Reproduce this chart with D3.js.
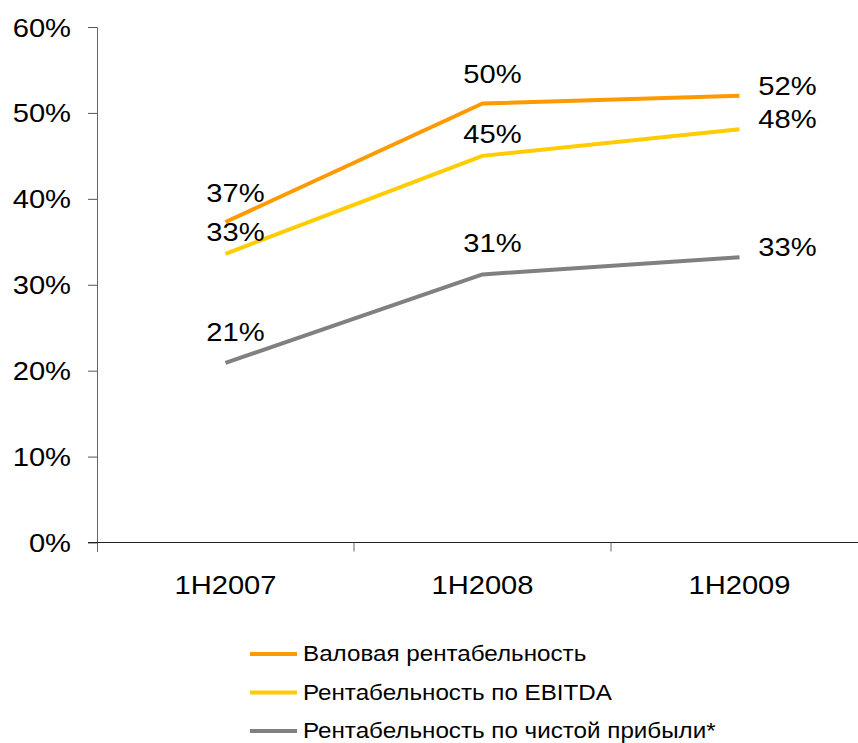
<!DOCTYPE html>
<meta charset="utf-8">
<style>
body { margin: 0; background: #fff; }
svg text { font-family: Arial, "Liberation Sans", sans-serif; fill: #000; }
</style>
<svg width="858" height="743" id="chart"></svg>
<script src="https://d3js.org/d3.v7.min.js"></script>
<script>

var categories = ["1H2007", "1H2008", "1H2009"];
var seriesNames = ["Валовая рентабельность", "Рентабельность по EBITDA", "Рентабельность по чистой прибыли*"];
var seriesColors = ["#ff9900", "#ffcc00", "#808080"];
var grossMargin = [37.3, 51.1, 52.0];
var ebitdaMargin = [33.6, 45.0, 48.1];
var netMargin = [20.9, 31.2, 33.2];
var grossLabels = ["37%", "50%", "52%"];
var ebitdaLabels = ["33%", "45%", "48%"];
var netLabels = ["21%", "31%", "33%"];
var yTicks = [0, 10, 20, 30, 40, 50, 60];

var series = [
  {name: seriesNames[0], color: seriesColors[0], values: grossMargin, labels: grossLabels},
  {name: seriesNames[1], color: seriesColors[1], values: ebitdaMargin, labels: ebitdaLabels},
  {name: seriesNames[2], color: seriesColors[2], values: netMargin, labels: netLabels}
];

var svg = d3.select("#chart");

var x = d3.scaleBand().domain(categories).range([97, 868]);
var y = d3.scaleLinear().domain([0, 60]).range([542.5, 27]);

// text is a bit wider than the font's natural shape in the original
function stretched(sel, px, py, str, size, anchor) {
  sel.append("text")
      .attr("transform", "translate(" + px + "," + py + ") scale(1.1,1)")
      .attr("text-anchor", anchor)
      .style("font-size", size + "px")
      .text(str);
}

// y axis
var yAxis = svg.append("g")
    .attr("transform", "translate(97,0)")
    .call(d3.axisLeft(y).tickValues(yTicks).tickSize(9).tickFormat(""));
yAxis.select(".domain").attr("stroke", "#666").attr("d", "M-9,27.5H0.5V552");
yAxis.selectAll(".tick line").attr("stroke", "#555");
yTicks.forEach(function(t) {
  stretched(svg, 71, y(t) + 9.5, t + "%", 26.5, "end");
});

// x axis
var xAxis = svg.append("g")
    .attr("transform", "translate(0,542.5)")
    .call(d3.axisBottom(x).tickSize(0).tickFormat(""));
xAxis.select(".domain").attr("stroke", "#222").attr("d", "M88,0H868");
xAxis.selectAll(".tick").remove();
var bounds = categories.map(function(c) { return x(c) + x.bandwidth(); });
xAxis.selectAll(".sep")
    .data(bounds)
  .enter().append("line")
    .attr("x1", function(d) { return d; })
    .attr("x2", function(d) { return d; })
    .attr("y1", 0)
    .attr("y2", 9)
    .attr("stroke", "#666");
categories.forEach(function(c) {
  stretched(svg, x(c) + x.bandwidth() / 2, 594, c, 26.5, "middle");
});

var cx = function(i) { return x(categories[i]) + x.bandwidth() / 2; };

var line = d3.line()
    .x(function(d, i) { return cx(i); })
    .y(function(d) { return y(d); });

svg.append("g").selectAll("path")
    .data(series)
  .enter().append("path")
    .attr("d", function(s) { return line(s.values); })
    .attr("fill", "none")
    .attr("stroke", function(s) { return s.color; })
    .attr("stroke-width", 4)
    .attr("stroke-linejoin", "round");

// value labels: above the point, last category to the right
var aboveOffsets = [20, 13, 22];
series.forEach(function(s, k) {
  s.values.forEach(function(v, i) {
    if (i < categories.length - 1) {
      stretched(svg, cx(i) + 10, y(v) - aboveOffsets[k], s.labels[i], 26.5, "middle");
    } else {
      stretched(svg, cx(i) + 48, y(v) - 1, s.labels[i], 26.5, "middle");
    }
  });
});

// legend
var legend = svg.append("g").selectAll("g")
    .data(series)
  .enter().append("g")
    .attr("transform", function(d, i) { return "translate(250," + (654 + i * 38.5) + ")"; });
legend.append("line")
    .attr("x1", 0).attr("x2", 47)
    .attr("stroke", function(d) { return d.color; })
    .attr("stroke-width", 4);
legend.each(function(d) {
  stretched(d3.select(this), 53, 7, d.name, 22, "start");
});

</script>
